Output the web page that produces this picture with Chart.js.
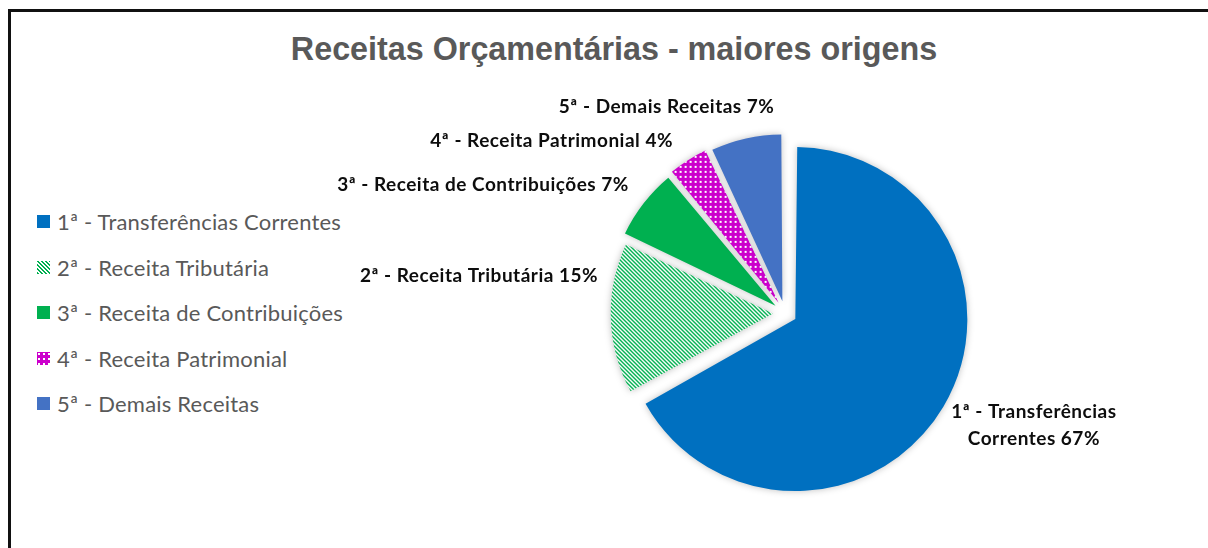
<!DOCTYPE html>
<html lang="pt">
<head>
<meta charset="utf-8">
<title>Receitas Orçamentárias - maiores origens</title>
<script src="https://cdn.jsdelivr.net/npm/chart.js@4.4.1/dist/chart.umd.min.js"></script>
<style>
  html, body { margin: 0; padding: 0; background: #fff; width: 1208px; height: 548px; overflow: hidden; }
  .frame { position: absolute; left: 8px; top: 9px; width: 1300px; height: 600px; border-left: 3px solid #111; border-top: 3px solid #111; }
  .title { position: absolute; left: 0; width: 1228px; top: 29px; text-align: center; font-family: 'Liberation Sans Narrow', 'Liberation Sans', Arial, sans-serif; font-weight: bold; font-size: 34px; color: #595959; transform: scaleX(0.95); }
  .legend { position: absolute; left: 37px; top: 207px; margin: 0; padding: 0; list-style: none; font-family: Lato, 'Open Sans', sans-serif; font-size: 22px; letter-spacing: 0.2px; color: #595959; }
  .legend li { height: 45.5px; line-height: 30px; display: flex; align-items: flex-start; }
  .legend .sw { display: inline-block; width: 13px; height: 13px; margin: 8px 7px 0 0; }
  #wrap { position: absolute; left: 0; top: 0; width: 1208px; height: 548px; }
</style>
</head>
<body>
<div class="frame"></div>
<div class="title">Receitas Orçamentárias - maiores origens</div>
<ul class="legend" id="legend"></ul>
<div id="wrap"><canvas id="chart"></canvas></div>
<script>
// Dados
const labels = ['1ª - Transferências Correntes', '2ª - Receita Tributária', '3ª - Receita de Contribuições', '4ª - Receita Patrimonial', '5ª - Demais Receitas'];
const valores = [67, 15, 7, 4, 7];
const rotulos = [['1ª - Transferências', 'Correntes 67%'], ['2ª - Receita Tributária 15%'], ['3ª - Receita de Contribuições 7%'], ['4ª - Receita Patrimonial 4%'], ['5ª - Demais Receitas 7%']];

// estilos dos rótulos (alinhamento + ajuste)
const rotuloAlign = ['center', 'right', 'right', 'right', 'right'];
const rotuloNudge = [[69, 6], [22, -44], [9, 0], [0, 4], [35, -2]];

// listras "\" nítidas, pixel a pixel
function stripes(color) {
  const c = document.createElement('canvas');
  c.width = c.height = 4;
  const x = c.getContext('2d');
  x.fillStyle = '#fff'; x.fillRect(0, 0, 4, 4);
  x.fillStyle = color;
  for (let i = 0; i < 4; i++) { x.fillRect(i, i, 1, 1); x.fillRect((i + 1) % 4, i, 1, 1); }
  return c;
}
function dots(color) {
  const c = document.createElement('canvas');
  c.width = c.height = 5;
  const x = c.getContext('2d');
  x.fillStyle = color; x.fillRect(0, 0, 5, 5);
  x.fillStyle = '#fff'; x.fillRect(1, 1, 2, 2);
  return c;
}

const ctx = document.getElementById('chart').getContext('2d');
const tiles = [null, stripes('#00B050'), null, dots('#CC00CC'), null];
const solid = ['#0070C0', '#00B050', '#00B050', '#CC00CC', '#4472C4'];
const fills = solid.map((c, i) => tiles[i] ? ctx.createPattern(tiles[i], 'repeat') : c);

// legenda HTML
const leg = document.getElementById('legend');
labels.forEach((l, i) => {
  const li = document.createElement('li');
  const sw = document.createElement('span');
  sw.className = 'sw';
  if (tiles[i]) sw.style.backgroundImage = 'url(' + tiles[i].toDataURL() + ')';
  else sw.style.background = solid[i];
  li.appendChild(sw);
  li.appendChild(document.createTextNode(l));
  leg.appendChild(li);
});

const shadow = {
  id: 'shadow',
  beforeDatasetDraw(chart) { const c = chart.ctx; c.save(); c.shadowColor = 'rgba(0,0,0,0.25)'; c.shadowBlur = 7; },
  afterDatasetDraw(chart) { chart.ctx.restore(); }
};

const dataLabels = {
  id: 'dataLabels',
  afterDatasetsDraw(chart) {
    const c = chart.ctx;
    const arcs = chart.getDatasetMeta(0).data;
    c.save();
    c.font = 'bold 19px Lato, "Open Sans", sans-serif';
    c.letterSpacing = '0.5px';
    c.fillStyle = '#0d0d0d';
    c.textBaseline = 'middle';
    arcs.forEach((a, i) => {
      const mid = (a.startAngle + a.endAngle) / 2;
      const R = a.outerRadius + 24 + 25;
      const x = a.x + Math.cos(mid) * R + rotuloNudge[i][0];
      const y = a.y + Math.sin(mid) * R + rotuloNudge[i][1];
      c.textAlign = rotuloAlign[i];
      const lines = rotulos[i];
      lines.forEach((t, k) => c.fillText(t, x, y + (k - (lines.length - 1) / 2) * 27));
    });
    c.restore();
  }
};

new Chart(ctx, {
  type: 'pie',
  data: {
    labels: labels,
    // offset do Chart.js é aplicado /4 no desenho (e soma ao raio) -> 48 = 12px
    datasets: [{ data: valores, backgroundColor: fills, borderWidth: 0, offset: 48, hoverOffset: 48 }]
  },
  options: {
    responsive: true,
    maintainAspectRatio: false,
    animation: false,
    radius: 160,
    layout: { padding: { left: 400, right: 38, top: 100, bottom: 22 } },
    plugins: { legend: { display: false }, tooltip: { enabled: false }, title: { display: false } }
  },
  plugins: [shadow, dataLabels]
});
</script>
</body>
</html>
